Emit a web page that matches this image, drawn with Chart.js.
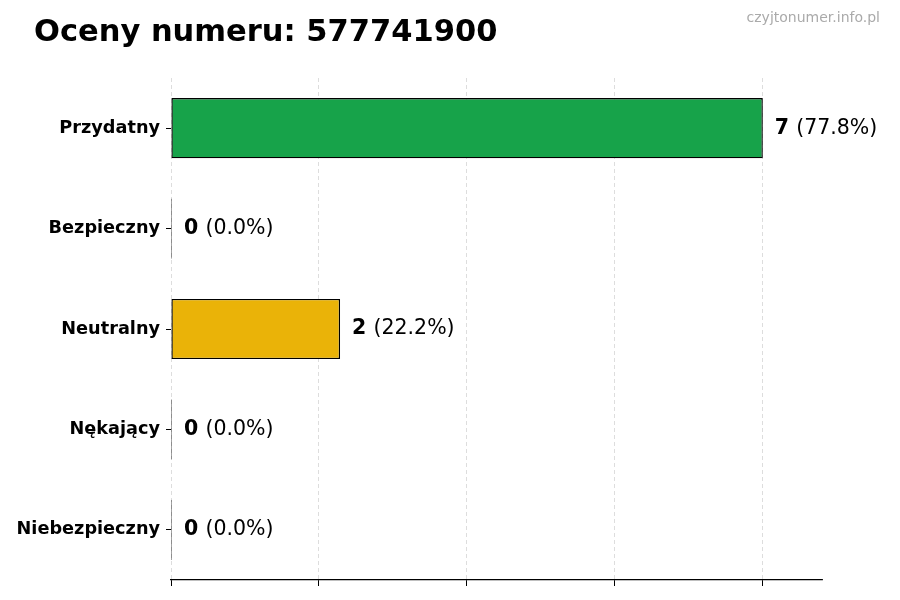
<!DOCTYPE html>
<html>
<head>
<meta charset="utf-8">
<script src="https://cdn.jsdelivr.net/npm/chart.js@4"></script>
<style>
  html, body { margin: 0; padding: 0; background: #fff; }
  #wrap { width: 900px; height: 600px; }
</style>
</head>
<body>
<div id="wrap"><canvas id="chart" width="900" height="600"></canvas></div>
<script>
// --- DATI ---
const TITLE = "Oceny numeru: 577741900";
const WATERMARK = "czyjtonumer.info.pl";
const categories = ["Przydatny", "Bezpieczny", "Neutralny", "Nękający", "Niebezpieczny"];
const counts = [7, 0, 2, 0, 0];
const percents = ["77.8", "0.0", "22.2", "0.0", "0.0"];
const barColors = ["#17a34a", "#22c55e", "#eab308", "#f97316", "#dc2626"];
const xTicks = [0, 1.75, 3.5, 5.25, 7];

const FONT = "'DejaVu Sans', sans-serif";

// titolo + watermark
const headerPlugin = {
  id: "header",
  afterDraw(chart) {
    const ctx = chart.ctx;
    ctx.save();
    ctx.fillStyle = "#000";
    ctx.font = "bold 30.5px " + FONT;
    ctx.textAlign = "left";
    ctx.textBaseline = "alphabetic";
    ctx.fillText(TITLE, 34, 41);
    ctx.fillStyle = "#aaaaaa";
    ctx.font = "14px " + FONT;
    ctx.textAlign = "right";
    ctx.fillText(WATERMARK, 880, 22);
    ctx.restore();
  },
};

// etichette valore a destra delle barre
const valueLabels = {
  id: "valueLabels",
  afterDatasetsDraw(chart) {
    const ctx = chart.ctx;
    const meta = chart.getDatasetMeta(0);
    ctx.save();
    ctx.textBaseline = "middle";
    ctx.textAlign = "left";
    ctx.fillStyle = "#000";
    meta.data.forEach((bar, i) => {
      const x = bar.x + 12;
      const y = bar.y;
      ctx.font = "bold 20.5px " + FONT;
      const v = String(counts[i]);
      ctx.fillText(v, x, y);
      const w = ctx.measureText(v + " ").width;
      ctx.font = "20.5px " + FONT;
      ctx.fillText("(" + percents[i] + "%)", x + w, y);
    });
    ctx.restore();
  },
};

new Chart(document.getElementById("chart"), {
  type: "bar",
  data: {
    labels: categories,
    datasets: [
      {
        data: counts,
        backgroundColor: barColors,
        borderColor: "#000",
        borderWidth: 1.4,
        borderSkipped: false,
        minBarLength: 1,
        barPercentage: 0.6,
        categoryPercentage: 1,
      },
    ],
  },
  options: {
    indexAxis: "y",
    responsive: false,
    animation: false,
    layout: { padding: { top: 78, right: 78, bottom: 14, left: 0 } },
    plugins: { legend: { display: false }, tooltip: { enabled: false } },
    scales: {
      x: {
        min: 0,
        max: 7.7,
        afterBuildTicks: (axis) => {
          axis.ticks = xTicks.map((v) => ({ value: v }));
        },
        ticks: { display: false },
        grid: {
          color: "#d4d4d4",
          lineWidth: 0.8,
          drawTicks: true,
          tickLength: 6,
          tickColor: "#000",
          tickWidth: 1,
        },
        border: { display: true, color: "#000", width: 1.2, dash: [4, 3] },
      },
      y: {
        afterFit: (s) => {
          s.width = 171;
        },
        ticks: {
          color: "#000",
          padding: 6,
          font: { family: FONT, size: 17.7, weight: "bold" },
        },
        grid: {
          offset: false,
          drawOnChartArea: false,
          drawTicks: true,
          tickLength: 5,
          tickColor: "#000",
          tickWidth: 1,
        },
        border: { display: false },
      },
    },
  },
  plugins: [headerPlugin, valueLabels],
});
</script>
</body>
</html>
